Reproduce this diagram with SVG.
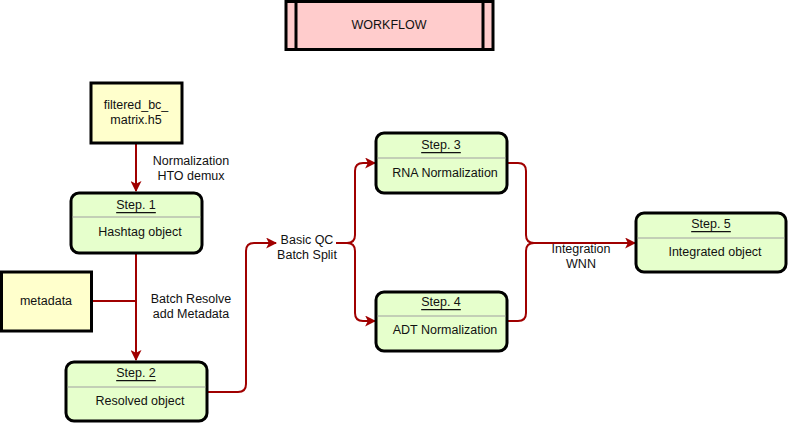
<svg xmlns="http://www.w3.org/2000/svg" width="789" height="423" viewBox="0 0 789 423">
<style>
text{font-family:"Liberation Sans",Arial,sans-serif;font-size:12.5px;fill:#111;text-anchor:middle;dominant-baseline:central}
.u{text-decoration:underline}
.yel{fill:#FFFFCC;stroke:#000;stroke-width:3}
.grn{fill:#E6FFCC;stroke:#000;stroke-width:3}
.pnk{fill:#FFCCCC;stroke:#000;stroke-width:3}
.div{stroke:#A0A0A0;stroke-width:1.2}
.c{fill:none;stroke:#A00000;stroke-width:2}
</style>
<defs>
<marker id="ah" viewBox="0 0 10 10" refX="9" refY="5" markerWidth="5.5" markerHeight="5.5" orient="auto" markerUnits="strokeWidth">
<path d="M0,0 L10,5 L0,10 L2.5,5 Z" fill="#A00000"/>
</marker>
</defs>
<rect width="789" height="423" fill="#fff"/>
<g id="workflow">
<rect class="pnk" x="286" y="1.5" width="207" height="48"/>
<line x1="296" y1="1.5" x2="296" y2="49.5" stroke="#000" stroke-width="3"/>
<line x1="483" y1="1.5" x2="483" y2="49.5" stroke="#000" stroke-width="3"/>
<text x="389" y="25">WORKFLOW</text>
</g>
<g id="connectors">
<path class="c" d="M136,144 L136,191" marker-end="url(#ah)"/>
<path class="c" d="M136,254 L136,360" marker-end="url(#ah)"/>
<path class="c" d="M93,301 L136,301"/>
<path class="c" d="M208,392 L238,392 Q246,392 246,384 L246,251 Q246,243 254,243 L276,243" marker-end="url(#ah)"/>
<path class="c" d="M336,243 L347,243 Q355,243 355,235 L355,171 Q355,163 363,163 L375,163" marker-end="url(#ah)"/>
<path class="c" d="M347,243 Q355,243 355,251 L355,313 Q355,321 363,321 L375,321" marker-end="url(#ah)"/>
<path class="c" d="M508,163 L518,163 Q526,163 526,171 L526,235 Q526,243 534,243 L635,243" marker-end="url(#ah)"/>
<path class="c" d="M508,321 L518,321 Q526,321 526,313 L526,251 Q526,243 534,243"/>
<text x="191" y="161">Normalization</text>
<text x="191" y="176">HTO demux</text>
<text x="191" y="299">Batch Resolve</text>
<text x="191" y="314">add Metadata</text>
<text x="307" y="240">Basic QC</text>
<text x="307" y="255">Batch Split</text>
<text x="581" y="249">Integration</text>
<text x="581" y="264">WNN</text>
</g>
<g id="filtered">
<rect class="yel" x="91" y="83" width="91" height="60"/>
<text x="136" y="105">filtered_bc_</text>
<text x="136" y="120">matrix.h5</text>
</g>
<g id="metadata">
<rect class="yel" x="1.5" y="272" width="90" height="59"/>
<text x="46" y="301">metadata</text>
</g>
<g id="step1">
<rect class="grn" x="71" y="193" width="131" height="60" rx="8"/>
<line class="div" x1="72.5" y1="217" x2="200.5" y2="217"/>
<text class="u" x="136" y="205">Step. 1</text>
<text x="140" y="232">Hashtag object</text>
</g>
<g id="step2">
<rect class="grn" x="66" y="362" width="141" height="59" rx="8"/>
<line class="div" x1="67.5" y1="387" x2="205.5" y2="387"/>
<text class="u" x="136" y="373">Step. 2</text>
<text x="140" y="401">Resolved object</text>
</g>
<g id="step3">
<rect class="grn" x="376" y="133" width="131" height="60" rx="8"/>
<line class="div" x1="377.5" y1="158" x2="505.5" y2="158"/>
<text class="u" x="441" y="145">Step. 3</text>
<text x="445" y="173">RNA Normalization</text>
</g>
<g id="step4">
<rect class="grn" x="376" y="292" width="131" height="59" rx="8"/>
<line class="div" x1="377.5" y1="316" x2="505.5" y2="316"/>
<text class="u" x="441" y="302">Step. 4</text>
<text x="445" y="330">ADT Normalization</text>
</g>
<g id="step5">
<rect class="grn" x="636" y="213" width="150" height="59" rx="8"/>
<line class="div" x1="637.5" y1="238" x2="784.5" y2="238"/>
<text class="u" x="711" y="224">Step. 5</text>
<text x="715" y="252">Integrated object</text>
</g>
</svg>
